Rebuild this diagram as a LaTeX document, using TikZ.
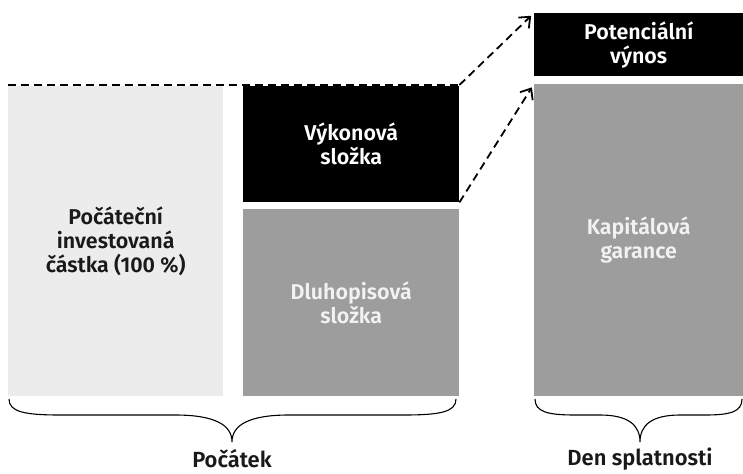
\documentclass[tikz,border=0pt]{standalone}
\usepackage{fontspec}
\setmainfont{Fira Sans}[BoldFont={Fira Sans SemiBold}]
\usetikzlibrary{positioning}
\usetikzlibrary{arrows.meta}
\definecolor{svetla}{HTML}{ECECEC}
\definecolor{seda}{HTML}{9D9D9D}
\tikzset{%
  box/.style = {rectangle,inner sep=0pt,align=center,anchor=north west,
        font=\bfseries\fontsize{21.5}{24}\selectfont},
  lightbox/.style = {box,fill=svetla,text=black!90},
  blackbox/.style = {box,fill=black,text=white},
  greybox/.style = {box,fill=seda,text=white!95!black},
  dashline/.style = {dash pattern=on 8bp off 5bp,line width=1.8bp},
  dasharrow/.style = {dashline,-{Straight Barb[length=9bp,width=15bp]},
        shorten >=4bp},
  brace/.style = {line width=1.1bp},
  timelabel/.style = {inner sep=0pt,font=\bfseries\fontsize{22}{24}\selectfont,
        text=black!90}
}

\begin{document}
\begin{tikzpicture}[x=1bp,y=-1bp]
    \useasboundingbox (0,0) rectangle (743,474);
    % boxes
    \node[lightbox,minimum width=215bp,minimum height=310bp] (start)
        at (8,86) {Počáteční\\investovaná\\částka (100 \%)};
    \node[blackbox,minimum width=216bp,minimum height=116bp] (vykon)
        at (243,86) {Výkonová\\složka};
    \node[greybox,minimum width=216bp,minimum height=187bp] (dluh)
        at (243,209) {Dluhopisová\\složka};
    \node[blackbox,minimum width=209bp,minimum height=63bp] (potenc)
        at (534,13) {Potenciální\\výnos};
    \node[greybox,minimum width=209bp,minimum height=312bp] (kapital)
        at (534,84) {Kapitálová\\garance};
    % arrows
    \draw[dashline] ([yshift=1bp]start.north west) -- ([yshift=1bp]vykon.north east);
    \draw[dasharrow] ([yshift=1bp]vykon.north east) -- (potenc.north west);
    \draw[dasharrow] (vykon.south east) -- (kapital.north west);
    % braces
    \draw[brace] (9,399) .. controls (9,412) and (25,415) .. (60,415)
        -- (175,415) .. controls (215,415) and (232,425) .. (232,442)
        .. controls (232,425) and (249,415) .. (289,415)
        -- (404,415) .. controls (440,415) and (456,412) .. (456,399);
    \draw[brace] (535,399) .. controls (535,412) and (548,415) .. (575,415)
        -- (600,415) .. controls (628,415) and (640,425) .. (640,442)
        .. controls (640,425) and (652,415) .. (680,415)
        -- (705,415) .. controls (730,415) and (742,412) .. (742,399);
    \node[timelabel] (pocatek) at (232,459) {Počátek};
    \node[timelabel] (splatnost) at (640,459) {Den splatnosti};
\end{tikzpicture}
\end{document}
